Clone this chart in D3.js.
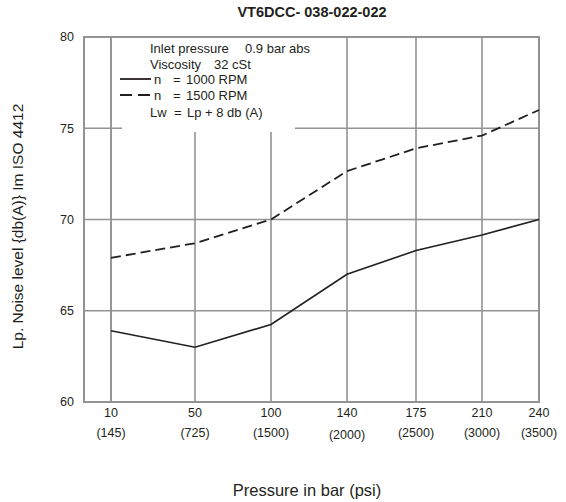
<!DOCTYPE html>
<html>
<head>
<meta charset="utf-8">
<script src="https://cdn.jsdelivr.net/npm/d3@7"></script>
<style>
  html, body { margin: 0; padding: 0; background: #fff; }
  svg { display: block; font-family: "Liberation Sans", Arial, Helvetica, sans-serif; }
  text { fill: #231f20; }
</style>
</head>
<body>
<svg id="chart" width="566" height="502"></svg>
<script>
// ---- data ----
const pressureBar = [10, 50, 100, 140, 175, 210, 240];
const pressurePsi = ["(145)", "(725)", "(1500)", "(2000)", "(2500)", "(3000)", "(3500)"];
const noise1000 = [63.9, 63.0, 64.25, 67.0, 68.3, 69.15, 70.0];
const noise1500 = [67.9, 68.7, 70.0, 72.65, 73.9, 74.6, 76.0];
const yTicks = [60, 65, 70, 75, 80];
const title = "VT6DCC- 038-022-022";
const xTitle = "Pressure in bar (psi)";
const yTitle = "Lp. Noise level {db(A)} Im ISO 4412";

// ---- layout ----
const margin = { left: 84, right: 27, top: 37, bottom: 100 };
const W = 566, H = 502;
const w = W - margin.left - margin.right;
const h = H - margin.top - margin.bottom;
// the original chart spaces its pressure gridlines unevenly
const xFrac = [0.0593, 0.244, 0.411, 0.578, 0.7297, 0.8747, 1.0];
const gridColor = "#939393";

const svg = d3.select("#chart");
const g = svg.append("g").attr("transform", `translate(${margin.left},${margin.top})`);

const x = d3.scaleLinear().domain(pressureBar).range(xFrac.map(f => f * w));
const y = d3.scaleLinear().domain([60, 80]).range([h, 0]);

// gridlines
g.append("g").selectAll("line.h").data(yTicks.slice(1, -1)).join("line")
  .attr("x1", 0).attr("x2", w)
  .attr("y1", d => y(d)).attr("y2", d => y(d))
  .attr("stroke", gridColor).attr("stroke-width", 1.6);
g.append("g").selectAll("line.v").data(pressureBar.slice(0, -1)).join("line")
  .attr("x1", d => x(d)).attr("x2", d => x(d))
  .attr("y1", 0).attr("y2", h)
  .attr("stroke", gridColor).attr("stroke-width", 1.6);

// legend background (hides gridlines behind legend text)
g.append("rect")
  .attr("x", 38).attr("y", 0).attr("width", 173).attr("height", 95)
  .attr("fill", "#fff");
// redraw the first vertical gridline which passes through the legend
g.append("line")
  .attr("x1", x(pressureBar[0])).attr("x2", x(pressureBar[0]))
  .attr("y1", 0).attr("y2", h)
  .attr("stroke", gridColor).attr("stroke-width", 1.6);

// frame
g.append("rect").attr("x", 0).attr("y", 0).attr("width", w).attr("height", h)
  .attr("fill", "none").attr("stroke", gridColor).attr("stroke-width", 2);

// lines
const line = d3.line().x((d, i) => x(pressureBar[i])).y(d => y(d));
g.append("path").datum(noise1000).attr("d", line)
  .attr("fill", "none").attr("stroke", "#231f20").attr("stroke-width", 1.6);
g.append("path").datum(noise1500).attr("d", line)
  .attr("fill", "none").attr("stroke", "#231f20").attr("stroke-width", 1.8)
  .attr("stroke-dasharray", "10,5");

// y tick labels
g.append("g").selectAll("text").data(yTicks).join("text")
  .attr("x", -10).attr("y", d => y(d)).attr("dy", "0.35em")
  .attr("text-anchor", "end").attr("font-size", 12.5).text(d => d);

// x tick labels
g.append("g").selectAll("text").data(pressureBar).join("text")
  .attr("x", d => x(d)).attr("y", h + 11).attr("dy", "0.35em")
  .attr("text-anchor", "middle").attr("font-size", 12.5).text(d => d);
g.append("g").selectAll("text").data(pressurePsi).join("text")
  .attr("x", (d, i) => x(pressureBar[i])).attr("y", (d, i) => h + 31 + (i === 3 ? 2 : 0)).attr("dy", "0.35em")
  .attr("text-anchor", "middle").attr("font-size", 12.5).text(d => d);

// titles
svg.append("text").attr("x", 312).attr("y", 12).attr("dy", "0.35em")
  .attr("text-anchor", "middle").attr("font-size", 14.5).attr("font-weight", "bold")
  .text(title);
svg.append("text").attr("x", 307).attr("y", 490).attr("dy", "0.35em")
  .attr("text-anchor", "middle").attr("font-size", 16.5).text(xTitle);
svg.append("text").attr("transform", `translate(18,${margin.top + h / 2 + 7}) rotate(-90)`)
  .attr("dy", "0.35em").attr("text-anchor", "middle").attr("font-size", 15.5).text(yTitle);

// legend
const lg = g.append("g").attr("font-size", 13);
const rowY = [11, 27, 42, 58, 75];
const tx = 66;
const r0 = lg.append("text").attr("y", rowY[0]).attr("dy", "0.35em");
r0.append("tspan").attr("x", tx).text("Inlet pressure");
r0.append("tspan").attr("x", 161).text("0.9 bar abs");
const r1 = lg.append("text").attr("y", rowY[1]).attr("dy", "0.35em");
r1.append("tspan").attr("x", tx).text("Viscosity");
r1.append("tspan").attr("x", 130).text("32 cSt");
lg.append("line").attr("x1", 36).attr("x2", 67).attr("y1", rowY[2]).attr("y2", rowY[2])
  .attr("stroke", "#231f20").attr("stroke-width", 1.8);
lg.append("line").attr("x1", 36).attr("x2", 67).attr("y1", rowY[3]).attr("y2", rowY[3])
  .attr("stroke", "#231f20").attr("stroke-width", 1.8).attr("stroke-dasharray", "12,6");
const r2 = lg.append("text").attr("y", rowY[2]).attr("dy", "0.35em");
r2.append("tspan").attr("x", 70).text("n");
r2.append("tspan").attr("x", 89).text("=");
r2.append("tspan").attr("x", 102).text("1000 RPM");
const r3 = lg.append("text").attr("y", rowY[3]).attr("dy", "0.35em");
r3.append("tspan").attr("x", 70).text("n");
r3.append("tspan").attr("x", 89).text("=");
r3.append("tspan").attr("x", 102).text("1500 RPM");
const r4 = lg.append("text").attr("y", rowY[4]).attr("dy", "0.35em");
r4.append("tspan").attr("x", tx).text("Lw");
r4.append("tspan").attr("x", 90).text("=");
r4.append("tspan").attr("x", 103).text("Lp + 8 db (A)");
</script>
</body>
</html>
